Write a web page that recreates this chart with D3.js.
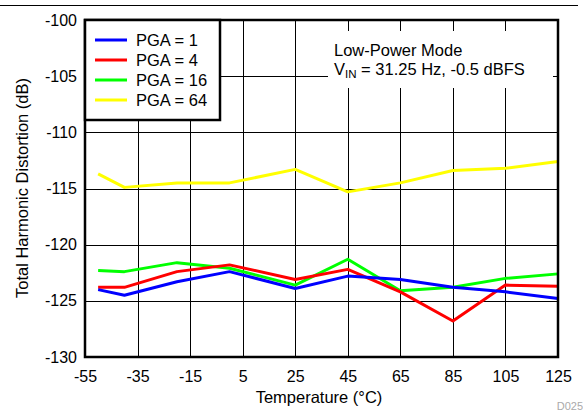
<!DOCTYPE html>
<html><head><meta charset="utf-8">
<script src="https://cdn.jsdelivr.net/npm/d3@7/dist/d3.min.js"></script>
<style>body{margin:0;background:#fff;} text{font-family:"Liberation Sans",Arial,sans-serif;}</style>
</head><body>
<svg id="c" width="583" height="411"></svg>
<script>
const temps = [-50, -40, -20, 0, 25, 45, 65, 85, 105, 125];
const pga1  = [-124.0, -124.5, -123.3, -122.4, -123.9, -122.8, -123.1, -123.8, -124.2, -124.8];
const pga4  = [-123.8, -123.8, -122.4, -121.8, -123.1, -122.2, -124.2, -126.8, -123.6, -123.7];
const pga16 = [-122.3, -122.4, -121.6, -122.1, -123.6, -121.3, -124.1, -123.8, -123.0, -122.6];
const pga64 = [-113.7, -114.9, -114.5, -114.5, -113.3, -115.3, -114.5, -113.4, -113.2, -112.6];
const seriesNames = ["PGA = 1", "PGA = 4", "PGA = 16", "PGA = 64"];
const seriesColors = ["#0000ff", "#ff0000", "#00ff00", "#ffff00"];
const xTicks = [-55, -35, -15, 5, 25, 45, 65, 85, 105, 125];
const yTicks = [-130, -125, -120, -115, -110, -105, -100];

const FONT = "Liberation Sans, Arial, sans-serif";
const svg = d3.select("#c");
const L = 85, R = 558, T = 20, B = 357;
const x = d3.scaleLinear().domain([-55, 125]).range([L, R]);
const y = d3.scaleLinear().domain([-130, -100]).range([B, T]);

// top rule
svg.append("line").attr("x1", 0).attr("x2", 578).attr("y1", 5.5).attr("y2", 5.5)
  .attr("stroke", "#000").attr("stroke-width", 1);

// grid
const g = svg.append("g");
g.selectAll(".vg").data(xTicks).join("line")
  .attr("x1", d => Math.round(x(d)) + 0.5).attr("x2", d => Math.round(x(d)) + 0.5)
  .attr("y1", T).attr("y2", B).attr("stroke", "#000").attr("stroke-width", 1);
g.selectAll(".hg").data(yTicks).join("line")
  .attr("y1", d => Math.round(y(d)) + 0.5).attr("y2", d => Math.round(y(d)) + 0.5)
  .attr("x1", L).attr("x2", R).attr("stroke", "#000").attr("stroke-width", 1);

// annotation white box
svg.append("rect").attr("x", 328).attr("y", 31).attr("width", 225).attr("height", 57).attr("fill", "#fff");
svg.append("text").attr("x", 334).attr("y", 56).attr("font-size", 16.5).text("Low-Power Mode");
const t2 = svg.append("text").attr("x", 334).attr("y", 75).attr("font-size", 16.5);
t2.append("tspan").text("V");
t2.append("tspan").attr("font-size", 11.5).attr("dy", 3).text("IN");
t2.append("tspan").attr("dy", -3).text(" = 31.25 Hz, -0.5 dBFS");

// lines
const all = [pga1, pga4, pga16, pga64];
const line = d3.line().x((d, i) => x(temps[i])).y(d => y(d));
all.slice().reverse().forEach((s, k) => {
  const idx = 3 - k;
  svg.append("path").datum(s).attr("d", line).attr("fill", "none")
    .attr("stroke", seriesColors[idx]).attr("stroke-width", 3).attr("stroke-linejoin", "round");
});

// frame
svg.append("rect").attr("x", L).attr("y", T).attr("width", R - L).attr("height", B - T)
  .attr("fill", "none").attr("stroke", "#000").attr("stroke-width", 2.5);

// axes labels via d3 axes
const fmt = d => String(d);
const xa = svg.append("g").attr("transform", `translate(0,${B})`)
  .call(d3.axisBottom(x).tickValues(xTicks).tickSize(0).tickPadding(14).tickFormat(fmt));
xa.select(".domain").remove();
xa.selectAll("text").attr("font-size", 16).attr("fill", "#000").attr("font-family", FONT);
const ya = svg.append("g").attr("transform", `translate(${L},0)`)
  .call(d3.axisLeft(y).tickValues(yTicks).tickSize(0).tickPadding(8).tickFormat(fmt));
ya.select(".domain").remove();
ya.selectAll("text").attr("font-size", 16).attr("fill", "#000").attr("font-family", FONT);

svg.append("text").attr("x", 319).attr("y", 403).attr("text-anchor", "middle").attr("font-size", 16.5).text("Temperature (°C)");
svg.append("text").attr("transform", "translate(28,188) rotate(-90)").attr("text-anchor", "middle")
  .attr("font-size", 16.5).text("Total Harmonic Distortion (dB)");
svg.append("text").attr("x", 583).attr("y", 410).attr("text-anchor", "end").attr("font-size", 11).attr("fill", "#aaa").text("D025");

// legend
const lg = svg.append("g");
lg.append("rect").attr("x", L).attr("y", T).attr("width", 135).attr("height", 100)
  .attr("fill", "#fff").attr("stroke", "#000").attr("stroke-width", 2.5);
seriesNames.forEach((n, i) => {
  const yy = 40 + i * 20;
  lg.append("line").attr("x1", 95).attr("x2", 127).attr("y1", yy).attr("y2", yy)
    .attr("stroke", seriesColors[i]).attr("stroke-width", 3);
  lg.append("text").attr("x", 136).attr("y", yy + 6).attr("font-size", 16.5).text(n);
});
</script>
</body></html>
